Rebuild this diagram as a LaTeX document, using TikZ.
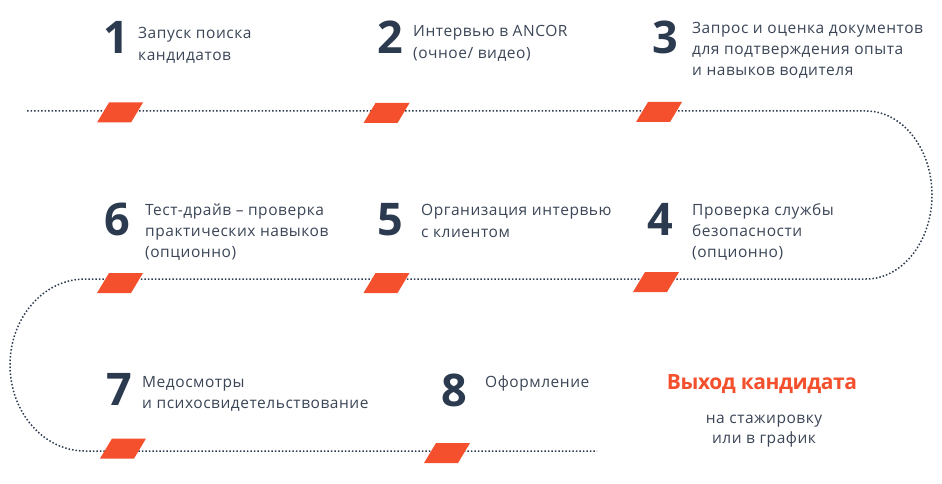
\documentclass[tikz,border=0pt]{standalone}
\usepackage{fontspec}
\setmainfont{Open Sans}
\newfontfamily\lblfont[LetterSpace=3.5]{Open Sans}
\newfontfamily\exfont[LetterSpace=-2]{Open Sans}
\definecolor{navy}{HTML}{2B3A4E}
\definecolor{txt}{HTML}{3A4556}
\definecolor{accent}{HTML}{F4502D}
\begin{document}
\begin{tikzpicture}[x=1pt,y=-1pt,
  num/.style={inner sep=0pt,anchor=base west,text=navy,font=\fontsize{45}{45}\selectfont\bfseries},
  lbl/.style={inner sep=0pt,anchor=base west,text=txt,font=\lblfont\fontsize{15.5}{18}\selectfont},
  dots/.style={draw=navy,line width=1.5pt,dash pattern=on 1.5pt off 2pt},
  marker/.pic={\fill[accent] (-11,-10) -- (23,-10) -- (11,10) -- (-23,10) -- cycle;}
]
\useasboundingbox (0,0) rectangle (942,484);
% timeline
\coordinate (a0) at (27,111);
\coordinate (a1) at (866,111);
\coordinate (b1) at (866,279);
\coordinate (b0) at (85,279);
\coordinate (c0) at (85,451);
\coordinate (c1) at (597,451);
\draw[dots] (a0) -- (a1) .. controls (902.5,111) and (932,148.8) .. (932,195)
  .. controls (932,241.2) and (902.5,279) .. (b1) -- (b0)
  .. controls (43.6,279) and (10,317.7) .. (10,365)
  .. controls (10,412.3) and (43.6,451) .. (c0) -- (c1);
% markers
\pic at (120,112.5) {marker};
\pic at (386.5,113) {marker};
\pic at (659,112) {marker};
\pic at (120,283) {marker};
\pic at (386.5,283) {marker};
\pic at (656,282) {marker};
\pic at (123,448.5) {marker};
\pic at (447,453) {marker};
% step 1
\node[num] (n1) at (103,54) {1};
\node[lbl] (t1a) at (138,39) {Запуск поиска};
\node[lbl] (t1b) at (138,61) {кандидатов};
% step 2
\node[num] (n2) at (377,54) {2};
\node[lbl] (t2a) at (413,37) {Интервью в ANCOR};
\node[lbl] (t2b) at (413,59) {(очное/ видео)};
% step 3
\node[num] (n3) at (652,54) {3};
\node[lbl] (t3a) at (692,34) {Запрос и оценка документов};
\node[lbl] (t3b) at (692,55) {для подтверждения опыта};
\node[lbl] (t3c) at (692,76) {и навыков водителя};
% step 6
\node[num] (n6) at (104,235) {6};
\node[lbl] (t6a) at (145,215) {Тест-драйв – проверка};
\node[lbl] (t6b) at (145,236) {практических навыков};
\node[lbl] (t6c) at (145,257) {(опционно)};
% step 5
\node[num] (n5) at (377,235) {5};
\node[lbl] (t5a) at (421,215) {Организация интервью};
\node[lbl] (t5b) at (421,237) {с клиентом};
% step 4
\node[num] (n4) at (647,235) {4};
\node[lbl] (t4a) at (692,215) {Проверка службы};
\node[lbl] (t4b) at (692,236) {безопасности};
\node[lbl] (t4c) at (692,257) {(опционно)};
% step 7
\node[num] (n7) at (106,405) {7};
\node[lbl] (t7a) at (142,387) {Медосмотры};
\node[lbl] (t7b) at (142,408) {и психосвидетельствование};
% step 8
\node[num] (n8) at (441,406) {8};
\node[lbl] (t8a) at (485,387) {Оформление};
% exit
\node[inner sep=0pt,anchor=base,text=accent,font=\exfont\fontsize{21}{21}\selectfont\bfseries] (ex) at (762,389) {Выход кандидата};
\node[lbl,anchor=base] (exa) at (764,423) {на стажировку};
\node[lbl,anchor=base] (exb) at (764,443) {или в график};
\end{tikzpicture}
\end{document}
